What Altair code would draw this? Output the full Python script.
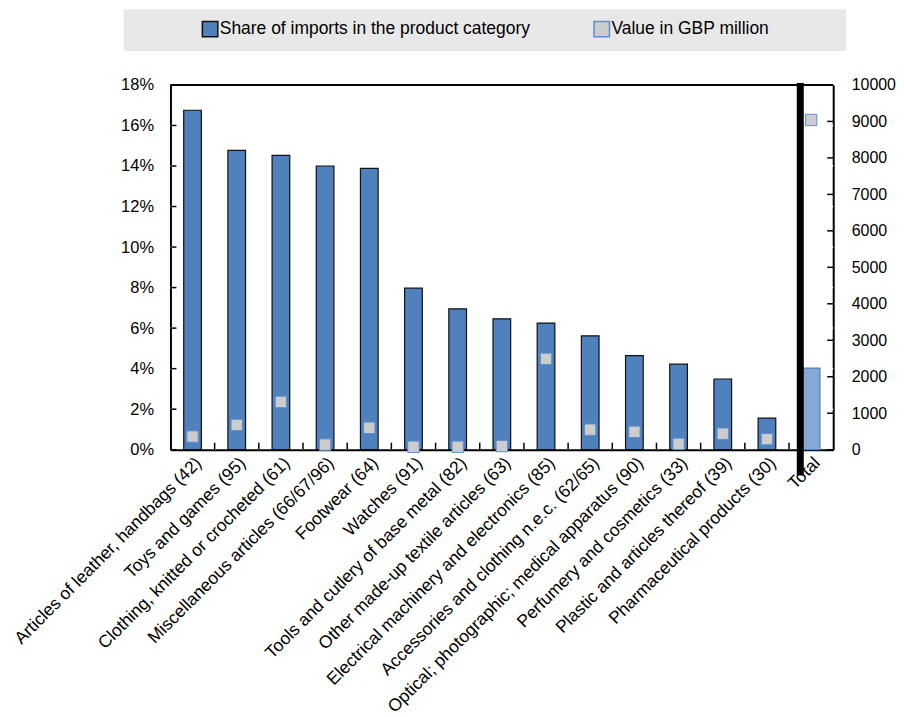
import altair as alt
import pandas as pd

categories = [
    "Articles of leather, handbags (42)",
    "Toys and games (95)",
    "Clothing, knitted or crocheted (61)",
    "Miscellaneous articles (66/67/96)",
    "Footwear (64)",
    "Watches (91)",
    "Tools and cutlery of base metal (82)",
    "Other made-up textile articles (63)",
    "Electrical machinery and electronics (85)",
    "Accessories and clothing n.e.c. (62/65)",
    "Optical; photographic; medical apparatus (90)",
    "Perfumery and cosmetics (33)",
    "Plastic and articles thereof (39)",
    "Pharmaceutical products (30)",
    "Total",
]
share_pct = [16.75, 14.77, 14.52, 14.0, 13.88, 7.97, 6.95, 6.46, 6.25, 5.62, 4.64, 4.22, 3.49, 1.56, 4.03]
value_gbp = [360, 680, 1310, 140, 600, 80, 80, 100, 2490, 550, 490, 160, 440, 290, 9040]

left_ticks = [0, 2, 4, 6, 8, 10, 12, 14, 16, 18]
grid_ticks = [2, 4, 6, 8, 10, 12, 14, 16]
right_ticks = [0, 1000, 2000, 3000, 4000, 5000, 6000, 7000, 8000, 9000, 10000]

SHARE = "Share of imports in the product category"
VALUE = "Value in GBP million"

W, H = 665, 366
FONT = "Liberation Sans"
STEP = W / 15.0
BW = 0.4 * STEP

df = pd.DataFrame({"cat": categories, "share": [s / 100 for s in share_pct], "value": value_gbp})
df_lt = pd.DataFrame({"t": [t / 100 for t in left_ticks]})
df_gt = pd.DataFrame({"t": [t / 100 for t in grid_ticks]})
df_rt = pd.DataFrame({"t": right_ticks})
df_inner = pd.DataFrame({"cat": categories[:-1]})
df_tot = pd.DataFrame({"cat": ["Total"]})
df_one = pd.DataFrame({"a": [1]})

xscale = alt.Scale(domain=categories, paddingInner=0.6, paddingOuter=0.3)
yl = alt.Scale(domain=[0, 0.18], nice=False)
yr = alt.Scale(domain=[0, 10000], nice=False)

left_axis = alt.Axis(format=".0%", values=[t / 100 for t in left_ticks], ticks=False, tickSize=0,
                     labelPadding=17, grid=False, labelFont=FONT, labelFontSize=16.5,
                     labelColor="#000000", domainColor="#000000", domainWidth=2,
                     labelOverlap=False, title=None)
right_axis = alt.Axis(orient="right", values=right_ticks, ticks=False, tickSize=0, labelPadding=18,
                      grid=False, labelFont=FONT, labelFontSize=16, labelColor="#000000",
                      domainColor="#000000", domainWidth=2, format="d", labelOverlap=False,
                      title=None)

fill_scale = alt.Scale(domain=[SHARE, VALUE], range=["#4f81bd", "#cccccc"])
stroke_scale = alt.Scale(domain=[SHARE, VALUE], range=["#111111", "#5b8fd0"])
legend = alt.Legend(
    title=None, orient="none", legendX=31, legendY=-65, direction="horizontal",
    symbolType="square", symbolSize=240, symbolStrokeWidth=1.5, labelOffset=1,
    columnPadding=61, labelFont=FONT, labelFontSize=17.5, labelColor="#000000",
    labelLimit=500, padding=0,
)

xenc = alt.X("cat:N", scale=xscale, sort=categories, title=None,
             axis=alt.Axis(labelAngle=-45, labelAlign="right", labelBaseline="top",
                           labelFont=FONT, labelFontSize=17.5, labelColor="#000000",
                           ticks=False, tickSize=0, labelPadding=4, grid=False,
                           domainColor="#000000", domainWidth=2, labelLimit=500))

legend_bg = alt.Chart(df_one).mark_rect(color="#e8e8e8").encode(
    x=alt.value(-47), x2=alt.value(678), y=alt.value(-76), y2=alt.value(-34)
)
top_line = alt.Chart(df_one).mark_rule(color="black", strokeWidth=2).encode(
    x=alt.value(0), x2=alt.value(W), y=alt.value(0)
)

vgrid = alt.Chart(df_inner).mark_rule(color="white", strokeWidth=1.5, xOffset=0.75 * BW).encode(
    x=alt.X("cat:N", scale=xscale, sort=categories, bandPosition=1),
    y=alt.value(0), y2=alt.value(H),
)
hgrid = alt.Chart(df_gt).mark_rule(color="white", strokeWidth=1.5).encode(
    y=alt.Y("t:Q", scale=yl, axis=left_axis), x=alt.value(0), x2=alt.value(W),
)

bars = alt.Chart(df).transform_calculate(series=f"'{SHARE}'").mark_bar(strokeWidth=1.2).encode(
    x=xenc,
    y=alt.Y("share:Q", scale=yl, axis=left_axis),
    fill=alt.condition("datum.cat == 'Total'", alt.value("#86a8d6"),
                       alt.Fill("series:N", scale=fill_scale, legend=legend)),
    stroke=alt.condition("datum.cat == 'Total'", alt.value("#4f81bd"),
                         alt.Stroke("series:N", scale=stroke_scale, legend=legend)),
)

lticks = alt.Chart(df_lt).mark_rule(color="black", strokeWidth=1.5).encode(
    y=alt.Y("t:Q", scale=yl, axis=left_axis), x=alt.value(0), x2=alt.value(6),
)
bticks = alt.Chart(df_inner).mark_rule(color="black", strokeWidth=1.5, xOffset=0.75 * BW).encode(
    x=alt.X("cat:N", scale=xscale, sort=categories, bandPosition=1),
    y=alt.value(H), y2=alt.value(H - 7),
)
sep = alt.Chart(df_tot).mark_rule(color="black", strokeWidth=7, xOffset=-2).encode(
    x=alt.X("cat:N", scale=xscale, sort=categories, bandPosition=0),
    y=alt.value(-2), y2=alt.value(H + 26),
)

left = alt.layer(legend_bg, vgrid, hgrid, bars, lticks, bticks, top_line)

markers = alt.Chart(df).transform_calculate(series=f"'{VALUE}'").mark_square(size=130, strokeWidth=1, opacity=1).encode(
    x=alt.X("cat:N", scale=xscale, sort=categories),
    y=alt.Y("value:Q", scale=yr, axis=right_axis),
    fill=alt.Fill("series:N", scale=fill_scale, legend=legend),
    stroke=alt.Stroke("series:N", scale=stroke_scale, legend=legend),
)
rticks = alt.Chart(df_rt).mark_rule(color="black", strokeWidth=1.5).encode(
    y=alt.Y("t:Q", scale=yr, axis=right_axis), x=alt.value(W - 6), x2=alt.value(W),
)

right = alt.layer(sep, markers, rticks)

chart = alt.layer(left, right).resolve_scale(y="independent").properties(
    width=W, height=H, padding={"left": 3, "top": 0, "right": 0, "bottom": 0}
).configure_view(fill="#f2feff", stroke="#000000", strokeWidth=2).configure(background="white")

chart.save("out.html", embed_options={"renderer": "svg", "actions": False})
